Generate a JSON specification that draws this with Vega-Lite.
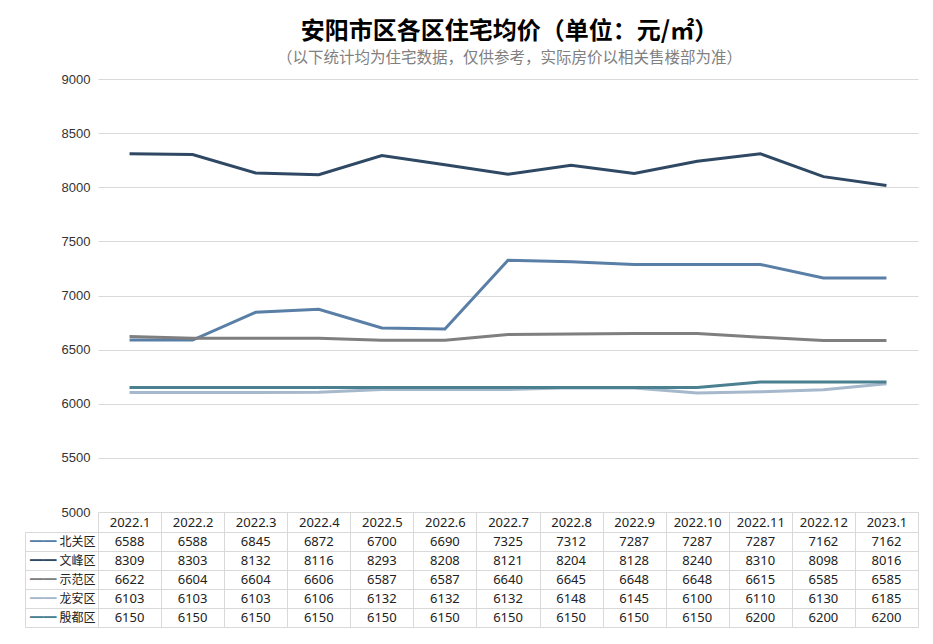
{
  "$schema": "https://vega.github.io/schema/vega-lite/v6.json",
  "background": "white",
  "padding": {"left": 24, "top": 19, "right": 16, "bottom": 10},
  "bounds": "flush",
  "spacing": 20,
  "title": {
    "text": "安阳市区各区住宅均价（单位：元/㎡）",
    "subtitle": "（以下统计均为住宅数据，仅供参考，实际房价以相关售楼部为准）",
    "font": "Noto Sans CJK SC",
    "fontSize": 24,
    "fontWeight": "bold",
    "color": "#000000",
    "subtitleFont": "Noto Sans CJK SC",
    "subtitleFontSize": 15.5,
    "subtitleColor": "#808080",
    "subtitlePadding": 7,
    "anchor": "middle",
    "offset": 7,
    "dx": 38
  },
  "config": {"view": {"stroke": null}, "font": "Noto Sans CJK SC"},
  "datasets": {
    "d": [
      {"m": "2022.1", "d": "北关区", "v": 6588}, {"m": "2022.2", "d": "北关区", "v": 6588}, {"m": "2022.3", "d": "北关区", "v": 6845}, {"m": "2022.4", "d": "北关区", "v": 6872}, {"m": "2022.5", "d": "北关区", "v": 6700}, {"m": "2022.6", "d": "北关区", "v": 6690}, {"m": "2022.7", "d": "北关区", "v": 7325}, {"m": "2022.8", "d": "北关区", "v": 7312}, {"m": "2022.9", "d": "北关区", "v": 7287}, {"m": "2022.10", "d": "北关区", "v": 7287}, {"m": "2022.11", "d": "北关区", "v": 7287}, {"m": "2022.12", "d": "北关区", "v": 7162}, {"m": "2023.1", "d": "北关区", "v": 7162},
      {"m": "2022.1", "d": "文峰区", "v": 8309}, {"m": "2022.2", "d": "文峰区", "v": 8303}, {"m": "2022.3", "d": "文峰区", "v": 8132}, {"m": "2022.4", "d": "文峰区", "v": 8116}, {"m": "2022.5", "d": "文峰区", "v": 8293}, {"m": "2022.6", "d": "文峰区", "v": 8208}, {"m": "2022.7", "d": "文峰区", "v": 8121}, {"m": "2022.8", "d": "文峰区", "v": 8204}, {"m": "2022.9", "d": "文峰区", "v": 8128}, {"m": "2022.10", "d": "文峰区", "v": 8240}, {"m": "2022.11", "d": "文峰区", "v": 8310}, {"m": "2022.12", "d": "文峰区", "v": 8098}, {"m": "2023.1", "d": "文峰区", "v": 8016},
      {"m": "2022.1", "d": "示范区", "v": 6622}, {"m": "2022.2", "d": "示范区", "v": 6604}, {"m": "2022.3", "d": "示范区", "v": 6604}, {"m": "2022.4", "d": "示范区", "v": 6606}, {"m": "2022.5", "d": "示范区", "v": 6587}, {"m": "2022.6", "d": "示范区", "v": 6587}, {"m": "2022.7", "d": "示范区", "v": 6640}, {"m": "2022.8", "d": "示范区", "v": 6645}, {"m": "2022.9", "d": "示范区", "v": 6648}, {"m": "2022.10", "d": "示范区", "v": 6648}, {"m": "2022.11", "d": "示范区", "v": 6615}, {"m": "2022.12", "d": "示范区", "v": 6585}, {"m": "2023.1", "d": "示范区", "v": 6585},
      {"m": "2022.1", "d": "龙安区", "v": 6103}, {"m": "2022.2", "d": "龙安区", "v": 6103}, {"m": "2022.3", "d": "龙安区", "v": 6103}, {"m": "2022.4", "d": "龙安区", "v": 6106}, {"m": "2022.5", "d": "龙安区", "v": 6132}, {"m": "2022.6", "d": "龙安区", "v": 6132}, {"m": "2022.7", "d": "龙安区", "v": 6132}, {"m": "2022.8", "d": "龙安区", "v": 6148}, {"m": "2022.9", "d": "龙安区", "v": 6145}, {"m": "2022.10", "d": "龙安区", "v": 6100}, {"m": "2022.11", "d": "龙安区", "v": 6110}, {"m": "2022.12", "d": "龙安区", "v": 6130}, {"m": "2023.1", "d": "龙安区", "v": 6185},
      {"m": "2022.1", "d": "殷都区", "v": 6150}, {"m": "2022.2", "d": "殷都区", "v": 6150}, {"m": "2022.3", "d": "殷都区", "v": 6150}, {"m": "2022.4", "d": "殷都区", "v": 6150}, {"m": "2022.5", "d": "殷都区", "v": 6150}, {"m": "2022.6", "d": "殷都区", "v": 6150}, {"m": "2022.7", "d": "殷都区", "v": 6150}, {"m": "2022.8", "d": "殷都区", "v": 6150}, {"m": "2022.9", "d": "殷都区", "v": 6150}, {"m": "2022.10", "d": "殷都区", "v": 6150}, {"m": "2022.11", "d": "殷都区", "v": 6200}, {"m": "2022.12", "d": "殷都区", "v": 6200}, {"m": "2023.1", "d": "殷都区", "v": 6200}
    ]
  },
  "data": {"name": "d"},
  "vconcat": [
    {
      "width": 820,
      "height": 433,
      "mark": {"type": "line", "strokeWidth": 3},
      "encoding": {
        "x": {
          "field": "m", "type": "ordinal",
          "sort": ["2022.1","2022.2","2022.3","2022.4","2022.5","2022.6","2022.7","2022.8","2022.9","2022.10","2022.11","2022.12","2023.1"],
          "scale": {"type": "band", "paddingInner": 0, "paddingOuter": 0},
          "bandPosition": 0.5,
          "axis": null
        },
        "y": {
          "field": "v", "type": "quantitative",
          "scale": {"domain": [5000, 9000], "nice": false, "zero": false},
          "axis": {
            "values": [5000, 5500, 6000, 6500, 7000, 7500, 8000, 8500, 9000],
            "format": "d",
            "grid": true, "gridColor": "#d9d9d9", "domain": false, "ticks": false,
            "labelFont": "Liberation Sans", "labelFontSize": 13, "labelColor": "#333333",
            "labelPadding": 8, "title": null
          }
        },
        "color": {
          "field": "d", "type": "nominal",
          "scale": {"domain": ["北关区","文峰区","示范区","龙安区","殷都区"], "range": ["#5a7fa6","#2f4863","#7f7f7f","#a6b8cb","#4a8090"]},
          "legend": null
        }
      }
    },
    {
      "width": 820,
      "height": 95,
      "layer": [
        {
          "mark": {"type": "text", "font": "Noto Sans", "fontSize": 13, "color": "#222222"},
          "encoding": {
            "x": {
              "field": "m", "type": "ordinal",
              "sort": ["2022.1","2022.2","2022.3","2022.4","2022.5","2022.6","2022.7","2022.8","2022.9","2022.10","2022.11","2022.12","2023.1"],
              "scale": {"type": "band", "paddingInner": 0, "paddingOuter": 0},
              "axis": {
                "orient": "top", "tickBand": "extent", "tickSize": 20, "tickColor": "#d9d9d9",
                "domainColor": "#d9d9d9", "grid": true, "gridColor": "#d9d9d9",
                "labelPadding": -17, "labelAngle": 0, "labelFont": "Noto Sans", "labelFontSize": 13,
                "labelColor": "#222222", "title": null
              }
            },
            "y": {
              "field": "d", "type": "nominal",
              "sort": ["北关区","文峰区","示范区","龙安区","殷都区"],
              "scale": {"type": "band", "paddingInner": 0, "paddingOuter": 0},
              "axis": {
                "tickBand": "extent", "tickSize": 73, "tickColor": "#d9d9d9",
                "domainColor": "#d9d9d9", "grid": true, "gridColor": "#d9d9d9",
                "labelPadding": -70, "labelFont": "Noto Sans CJK SC", "labelFontSize": 12,
                "labelColor": "#222222", "title": null
              }
            },
            "text": {"field": "v", "type": "quantitative", "format": "d"}
          }
        },
        {
          "mark": {"type": "point", "opacity": 0},
          "encoding": {
            "y": {
              "field": "d", "type": "nominal",
              "sort": ["北关区","文峰区","示范区","龙安区","殷都区"],
              "scale": {"type": "band", "paddingInner": 0, "paddingOuter": 0},
              "axis": {
                "orient": "left", "offset": 73, "ticks": false, "tickSize": 0,
                "domain": true, "domainColor": "#d9d9d9", "grid": false,
                "labelExpr": "'━━━━'", "labelFont": "DejaVu Sans", "labelFontSize": 11,
                "labelPadding": -31,
                "labelColor": {
                  "condition": [
                    {"test": "datum.value === '北关区'", "value": "#5a7fa6"},
                    {"test": "datum.value === '文峰区'", "value": "#2f4863"},
                    {"test": "datum.value === '示范区'", "value": "#7f7f7f"},
                    {"test": "datum.value === '龙安区'", "value": "#a6b8cb"}
                  ],
                  "value": "#4a8090"
                },
                "title": null
              }
            }
          }
        }
      ],
      "resolve": {"scale": {"y": "independent"}, "axis": {"y": "independent"}}
    }
  ]
}
